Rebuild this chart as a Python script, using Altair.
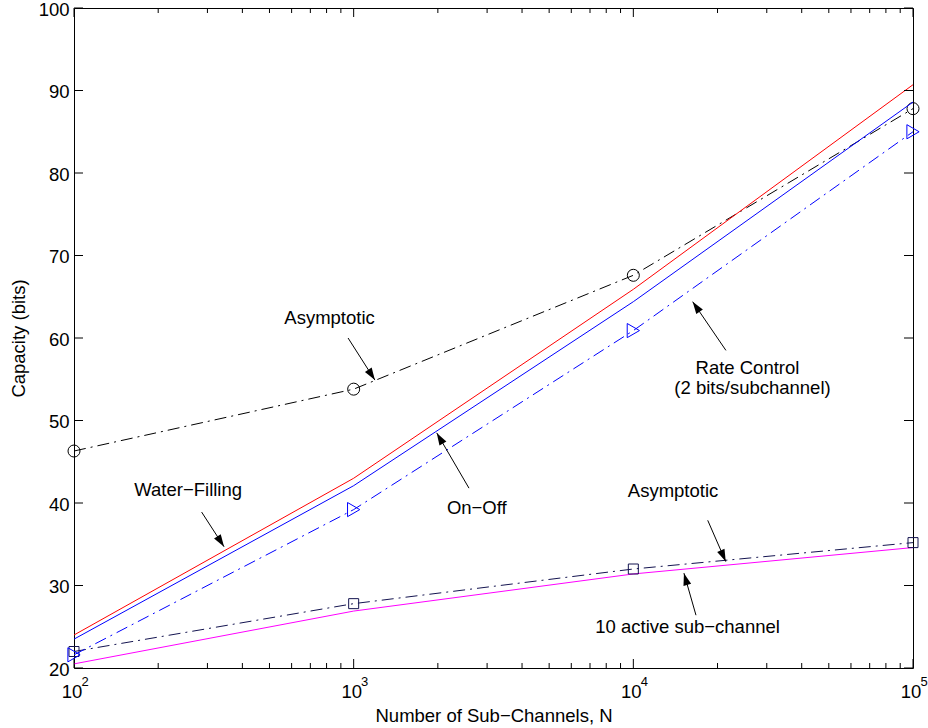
import math
import altair as alt
import pandas as pd

# ---------------- data ----------------
N = [100, 1000, 10000, 100000]
water_filling = [24.0, 43.0, 65.9, 90.7]
on_off = [23.5, 42.1, 64.4, 88.6]
rate_control = [21.6, 39.2, 60.9, 85.0]
asymptotic_all = [46.3, 53.8, 67.6, 87.8]
active_10 = [20.5, 26.9, 31.4, 34.6]
asymptotic_10 = [22.0, 27.8, 32.0, 35.2]

x_major = [100, 1000, 10000, 100000]
x_base_labels = ["10", "10", "10", "10"]
x_exponents = ["2", "3", "4", "5"]
minor_mult = [2, 3, 4, 5, 6, 7, 8, 9]
y_ticks = [20, 30, 40, 50, 60, 70, 80, 90, 100]

ann_text = ["Asymptotic", "Water\u2212Filling", "On\u2212Off", "Rate Control",
            "(2 bits/subchannel)", "Asymptotic", "10 active sub\u2212channel"]
ann_text_x = [820, 256, 2756, 25590, 26680, 13870, 15630]
ann_text_y = [62.4, 41.6, 39.4, 56.4, 53.9, 41.45, 24.97]

arrow_x0 = [955, 286, 2584, 21430, 18450, 16750]
arrow_y0 = [60.0, 38.9, 41.8, 58.5, 37.9, 26.4]
arrow_x1 = [1191, 344, 1982, 16300, 21400, 15170]
arrow_y1 = [54.9, 34.7, 48.5, 64.4, 32.9, 31.5]

# ---------------- geometry / style ----------------
W, H = 839, 660
FONT = "Liberation Sans"
FS = 18.5
DASHDOT = [12, 5, 2, 5]

xscale = alt.Scale(type="log", domain=[100, 100000], nice=False)
yscale = alt.Scale(domain=[20, 100], nice=False, zero=False)

x_axis = alt.Axis(labels=False, ticks=False, domain=False, grid=False,
                  title="Number of Sub\u2212Channels, N", titlePadding=38,
                  titleFont=FONT, titleFontSize=FS, titleFontWeight="normal",
                  titleColor="black")
y_axis = alt.Axis(values=y_ticks, ticks=False, domain=False, grid=False,
                  labelFont=FONT, labelFontSize=FS, labelColor="black",
                  labelPadding=5, labelFlush=False, labelOffset=1,
                  title="Capacity (bits)", titlePadding=10,
                  titleFont=FONT, titleFontSize=FS, titleFontWeight="normal",
                  titleColor="black")


def X(f):
    return alt.X(f, type="quantitative", scale=xscale, axis=x_axis)


def Y(f):
    return alt.Y(f, type="quantitative", scale=yscale, axis=y_axis)


def series_layers(values, color, dash=None, shape=None, size=None):
    df = pd.DataFrame({"N": N, "v": values})
    kw = dict(color=color, strokeWidth=1)
    if dash:
        kw["strokeDash"] = dash
    layers = [alt.Chart(df).mark_line(**kw).encode(x=X("N"), y=Y("v"))]
    if shape:
        layers.append(alt.Chart(df).mark_point(shape=shape, filled=False, size=size,
                                               color=color, strokeWidth=1, opacity=1)
                      .encode(x=X("N"), y=Y("v")))
    return layers


layers = []
layers += series_layers(active_10, "#ff00ff")
layers += series_layers(asymptotic_10, "#141450", DASHDOT, "square", 100)
layers += series_layers(rate_control, "#0000ff", DASHDOT, "triangle-right", 200)
layers += series_layers(asymptotic_all, "black", DASHDOT, "circle", 144)
layers += series_layers(water_filling, "#ff0000")
layers += series_layers(on_off, "#0000ff")

# ---------------- ticks (inward, MATLAB style) ----------------
xmaj = pd.DataFrame({"t": x_major})
xmin = pd.DataFrame({"t": [m * 10 ** k for k in (2, 3, 4) for m in minor_mult]})
ytk = pd.DataFrame({"t": y_ticks})

tick_kw = dict(color="black", strokeWidth=1)
layers.append(alt.Chart(xmaj).mark_rule(**tick_kw).encode(x=X("t"), y=alt.value(H), y2=alt.value(H - 9)))
layers.append(alt.Chart(xmaj).mark_rule(**tick_kw).encode(x=X("t"), y=alt.value(0), y2=alt.value(9)))
layers.append(alt.Chart(xmin).mark_rule(**tick_kw).encode(x=X("t"), y=alt.value(H), y2=alt.value(H - 5)))
layers.append(alt.Chart(xmin).mark_rule(**tick_kw).encode(x=X("t"), y=alt.value(0), y2=alt.value(5)))
layers.append(alt.Chart(ytk).mark_rule(**tick_kw).encode(y=Y("t"), x=alt.value(0), x2=alt.value(9)))
layers.append(alt.Chart(ytk).mark_rule(**tick_kw).encode(y=Y("t"), x=alt.value(W), x2=alt.value(W - 9)))

# x tick labels 10^k
xlab = pd.DataFrame({"t": x_major, "b": x_base_labels, "e": x_exponents})
layers.append(alt.Chart(xlab).mark_text(font=FONT, fontSize=FS, color="black", align="center",
                                        baseline="alphabetic", dx=-2)
              .encode(x=X("t"), y=alt.value(H + 30), text="b:N"))
layers.append(alt.Chart(xlab).mark_text(font=FONT, fontSize=13, color="black", align="center",
                                        baseline="alphabetic", dx=11)
              .encode(x=X("t"), y=alt.value(H + 18), text="e:N"))

# ---------------- annotations ----------------
tdf = pd.DataFrame({"x": ann_text_x, "y": ann_text_y, "txt": ann_text})
layers.append(alt.Chart(tdf).mark_text(font=FONT, fontSize=FS, color="black", align="center",
                                       baseline="middle")
              .encode(x=X("x"), y=Y("y"), text="txt:N"))


def px(xv, yv):
    return (W * (math.log10(xv) - 2) / 3, H * (100 - yv) / 80)


angles = []
for a, b, c, d in zip(arrow_x0, arrow_y0, arrow_x1, arrow_y1):
    sx, sy = px(a, b)
    tx, ty = px(c, d)
    angles.append(math.degrees(math.atan2(tx - sx, -(ty - sy))) % 360)

adf = pd.DataFrame({"x0": arrow_x0, "y0": arrow_y0, "x1": arrow_x1, "y1": arrow_y1, "ang": angles})
layers.append(alt.Chart(adf).mark_rule(color="black", strokeWidth=1)
              .encode(x=X("x0"), y=Y("y0"), x2="x1", y2="y1"))
layers.append(alt.Chart(adf).mark_point(shape="M0,0L-0.65,2L0.65,2Z", filled=True, size=150,
                                        color="black", opacity=1, strokeWidth=0)
              .encode(x=X("x1"), y=Y("y1"), angle=alt.Angle("ang:Q", scale=None)))

chart = (alt.layer(*layers)
         .properties(width=W, height=H, background="white",
                     autosize=alt.AutoSizeParams(type="none"),
                     padding={"left": 74, "top": 8, "right": 15, "bottom": 60})
         .configure_view(stroke="black", strokeWidth=1))

chart.save("out.html", embed_options={"renderer": "svg", "actions": False})
